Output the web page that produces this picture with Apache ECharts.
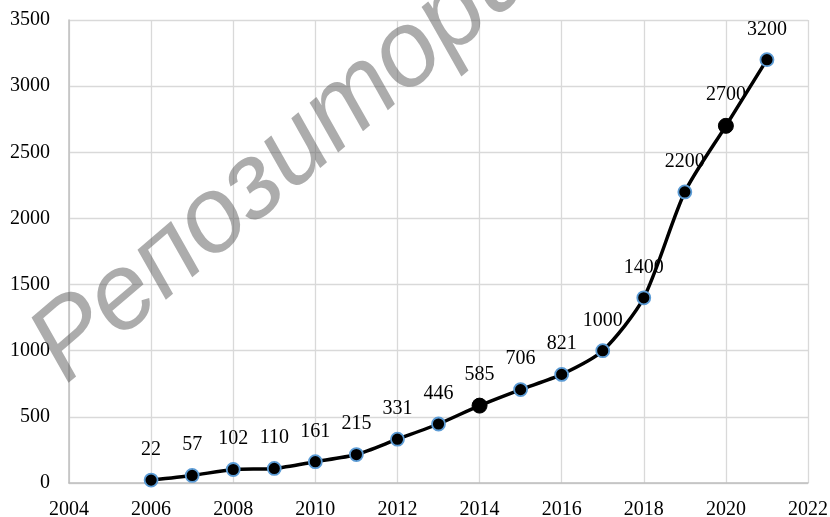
<!DOCTYPE html>
<html>
<head>
<meta charset="utf-8">
<script src="https://cdn.jsdelivr.net/npm/echarts@6/dist/echarts.min.js"></script>
<style>
html,body{margin:0;padding:0;background:#fff;}
#chart{width:830px;height:517px;}
</style>
</head>
<body>
<div id="chart"></div>
<script>
var years = [2006, 2007, 2008, 2009, 2010, 2011, 2012, 2013, 2014, 2015, 2016, 2017, 2018, 2019, 2020, 2021];
var values = [22, 57, 102, 110, 161, 215, 331, 446, 585, 706, 821, 1000, 1400, 2200, 2700, 3200];
var highlightedYears = [2014, 2020];
var watermarkText = 'Репозиторий';

var serif = '"Liberation Serif", "Times New Roman", serif';

var seriesData = years.map(function (yr, i) {
  var item = { value: [yr, values[i]] };
  if (highlightedYears.indexOf(yr) >= 0) {
    item.symbolSize = 15;
    item.itemStyle = { color: '#000', borderColor: '#000', borderWidth: 1 };
  }
  return item;
});

var chart = echarts.init(document.getElementById('chart'), null, { renderer: 'canvas' });
chart.setOption({
  animation: false,
  backgroundColor: '#fff',
  grid: { left: 69, right: 22, top: 20, bottom: 34, containLabel: false, outerBoundsMode: 'none' },
  xAxis: {
    type: 'value', min: 2004, max: 2022, interval: 2,
    axisLine: { show: true, lineStyle: { color: '#bfbfbf', width: 1.5 } },
    axisTick: { show: false },
    axisLabel: { color: '#000', fontFamily: serif, fontSize: 20, margin: 17,
      formatter: function (v) { return String(v); } },
    splitLine: { show: true, lineStyle: { color: '#d9d9d9', width: 1.3 } }
  },
  yAxis: {
    type: 'value', min: 0, max: 3500, interval: 500,
    axisLine: { show: true, lineStyle: { color: '#bfbfbf', width: 1.5 } },
    axisTick: { show: false },
    axisLabel: { color: '#000', fontFamily: serif, fontSize: 20, margin: 19,
      formatter: function (v) { return String(v); } },
    splitLine: { show: true, lineStyle: { color: '#d9d9d9', width: 1.3 } }
  },
  graphic: [{
    type: 'text',
    x: 306, y: 141,
    rotation: 40.5 * Math.PI / 180,
    z: 100,
    silent: true,
    style: {
      text: watermarkText,
      fontFamily: '"Liberation Sans", Arial, sans-serif',
      fontStyle: 'italic',
      fontSize: 107,
      fill: 'rgba(90,90,90,0.5)',
      textAlign: 'center',
      textVerticalAlign: 'middle'
    }
  }],
  series: [{
    type: 'line',
    data: seriesData,
    smooth: 0.25,
    symbol: 'circle',
    symbolSize: 13,
    lineStyle: { color: '#000', width: 3.5 },
    itemStyle: { color: '#000', borderColor: '#5b9bd5', borderWidth: 1.8 },
    label: {
      show: true, position: 'top', distance: 13,
      color: '#000', fontFamily: serif, fontSize: 20,
      formatter: function (p) { return p.value[1]; }
    },
    z: 3
  }]
});
</script>
</body>
</html>
